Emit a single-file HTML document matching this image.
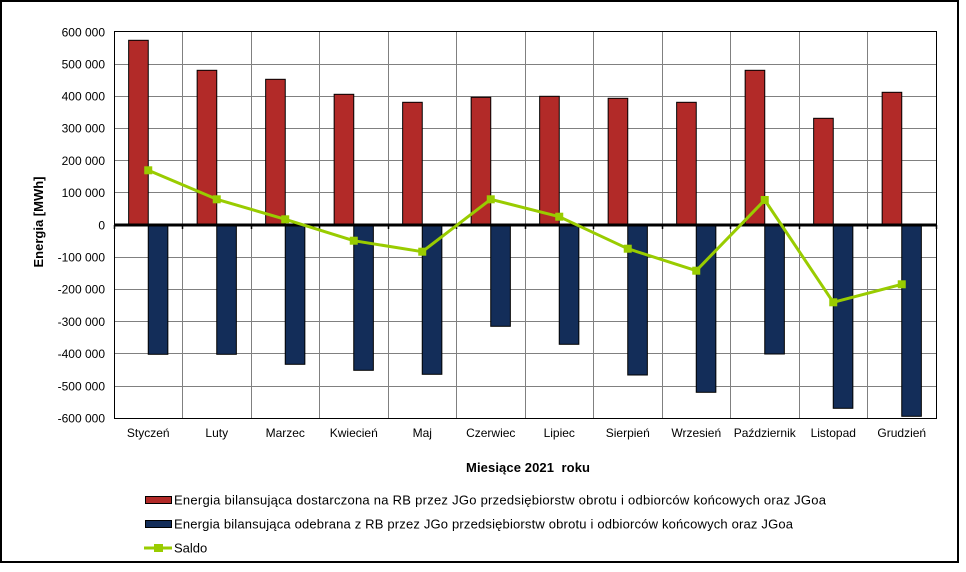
<!DOCTYPE html>
<html>
<head>
<meta charset="utf-8">
<style>
  html, body { margin: 0; padding: 0; background: #ffffff; }
  svg { display: block; }
  text { font-family: "Liberation Sans", Arial, sans-serif; fill: #000; }
</style>
</head>
<body>
<svg width="966" height="572" viewBox="0 0 966 572" xmlns="http://www.w3.org/2000/svg">
  <rect x="0" y="0" width="966" height="572" fill="#ffffff"/>
  <!-- outer frame -->
  <rect x="1" y="1" width="957" height="561" fill="none" stroke="#000" stroke-width="2"/>

  <!-- horizontal gridlines -->
  <g stroke="#808080" stroke-width="1" shape-rendering="crispEdges">
    <line x1="114" y1="64.5" x2="936" y2="64.5"/>
    <line x1="114" y1="96.5" x2="936" y2="96.5"/>
    <line x1="114" y1="128.5" x2="936" y2="128.5"/>
    <line x1="114" y1="160.5" x2="936" y2="160.5"/>
    <line x1="114" y1="192.5" x2="936" y2="192.5"/>
    <line x1="114" y1="257.5" x2="936" y2="257.5"/>
    <line x1="114" y1="289.5" x2="936" y2="289.5"/>
    <line x1="114" y1="321.5" x2="936" y2="321.5"/>
    <line x1="114" y1="353.5" x2="936" y2="353.5"/>
    <line x1="114" y1="386.5" x2="936" y2="386.5"/>
    <!-- vertical gridlines -->
    <line x1="182.5" y1="32" x2="182.5" y2="418"/>
    <line x1="251.5" y1="32" x2="251.5" y2="418"/>
    <line x1="319.5" y1="32" x2="319.5" y2="418"/>
    <line x1="388.5" y1="32" x2="388.5" y2="418"/>
    <line x1="456.5" y1="32" x2="456.5" y2="418"/>
    <line x1="525.5" y1="32" x2="525.5" y2="418"/>
    <line x1="593.5" y1="32" x2="593.5" y2="418"/>
    <line x1="662.5" y1="32" x2="662.5" y2="418"/>
    <line x1="730.5" y1="32" x2="730.5" y2="418"/>
    <line x1="799.5" y1="32" x2="799.5" y2="418"/>
    <line x1="867.5" y1="32" x2="867.5" y2="418"/>
  </g>

  <!-- plot border -->
  <rect x="114.5" y="31.5" width="822" height="387" fill="none" stroke="#000" stroke-width="1" shape-rendering="crispEdges"/>

  <!-- red bars -->
  <g fill="#B22A28" stroke="#000" stroke-width="1">
    <rect x="128.65" y="40.3" width="19.6" height="184.7"/>
    <rect x="197.15" y="70.3" width="19.6" height="154.7"/>
    <rect x="265.65" y="79.3" width="19.6" height="145.7"/>
    <rect x="334.15" y="94.3" width="19.6" height="130.7"/>
    <rect x="402.65" y="102.3" width="19.6" height="122.7"/>
    <rect x="471.15" y="97.3" width="19.6" height="127.7"/>
    <rect x="539.65" y="96.3" width="19.6" height="128.7"/>
    <rect x="608.15" y="98.3" width="19.6" height="126.7"/>
    <rect x="676.65" y="102.3" width="19.6" height="122.7"/>
    <rect x="745.15" y="70.3" width="19.6" height="154.7"/>
    <rect x="813.65" y="118.3" width="19.6" height="106.7"/>
    <rect x="882.15" y="92.3" width="19.6" height="132.7"/>
  </g>

  <!-- blue bars -->
  <g fill="#132D59" stroke="#000" stroke-width="1">
    <rect x="148.25" y="225" width="19.6" height="129.3"/>
    <rect x="216.75" y="225" width="19.6" height="129.3"/>
    <rect x="285.25" y="225" width="19.6" height="139.3"/>
    <rect x="353.75" y="225" width="19.6" height="145.3"/>
    <rect x="422.25" y="225" width="19.6" height="149.3"/>
    <rect x="490.75" y="225" width="19.6" height="101.3"/>
    <rect x="559.25" y="225" width="19.6" height="119.3"/>
    <rect x="627.75" y="225" width="19.6" height="150"/>
    <rect x="696.25" y="225" width="19.6" height="167.3"/>
    <rect x="764.75" y="225" width="19.6" height="129"/>
    <rect x="833.25" y="225" width="19.6" height="183.3"/>
    <rect x="901.75" y="225" width="19.6" height="191.3"/>
  </g>

  <!-- zero axis -->
  <line x1="114" y1="225" x2="937" y2="225" stroke="#000" stroke-width="3"/>
  <g stroke="#000" stroke-width="1.5">
    <line x1="114.5" y1="225" x2="114.5" y2="229"/>
    <line x1="182.5" y1="225" x2="182.5" y2="229"/>
    <line x1="251.5" y1="225" x2="251.5" y2="229"/>
    <line x1="319.5" y1="225" x2="319.5" y2="229"/>
    <line x1="388.5" y1="225" x2="388.5" y2="229"/>
    <line x1="456.5" y1="225" x2="456.5" y2="229"/>
    <line x1="525.5" y1="225" x2="525.5" y2="229"/>
    <line x1="593.5" y1="225" x2="593.5" y2="229"/>
    <line x1="662.5" y1="225" x2="662.5" y2="229"/>
    <line x1="730.5" y1="225" x2="730.5" y2="229"/>
    <line x1="799.5" y1="225" x2="799.5" y2="229"/>
    <line x1="867.5" y1="225" x2="867.5" y2="229"/>
    <line x1="936.5" y1="225" x2="936.5" y2="229"/>
  </g>

  <!-- Saldo line -->
  <polyline fill="none" stroke="#99CC00" stroke-width="3" stroke-linejoin="round"
    points="148.25,170.3 216.75,199.3 285.25,219.3 353.75,240.7 422.25,251.7 490.75,199.3 559.25,216.7 627.75,248.7 696.25,270.7 764.75,200 833.25,302.3 901.75,284.3"/>
  <g fill="#99CC00">
    <rect x="144.25" y="166.3" width="8" height="8"/>
    <rect x="212.75" y="195.3" width="8" height="8"/>
    <rect x="281.25" y="215.3" width="8" height="8"/>
    <rect x="349.75" y="236.7" width="8" height="8"/>
    <rect x="418.25" y="247.7" width="8" height="8"/>
    <rect x="486.75" y="195.3" width="8" height="8"/>
    <rect x="555.25" y="212.7" width="8" height="8"/>
    <rect x="623.75" y="244.7" width="8" height="8"/>
    <rect x="692.25" y="266.7" width="8" height="8"/>
    <rect x="760.75" y="196" width="8" height="8"/>
    <rect x="829.25" y="298.3" width="8" height="8"/>
    <rect x="897.75" y="280.3" width="8" height="8"/>
  </g>

  <!-- y tick labels -->
  <g font-size="12" text-anchor="end">
    <text x="105" y="36.5">600 000</text>
    <text x="105" y="68.5">500 000</text>
    <text x="105" y="100.5">400 000</text>
    <text x="105" y="132.5">300 000</text>
    <text x="105" y="165">200 000</text>
    <text x="105" y="197">100 000</text>
    <text x="105" y="229.5">0</text>
    <text x="105" y="261.5">-100 000</text>
    <text x="105" y="293.5">-200 000</text>
    <text x="105" y="326">-300 000</text>
    <text x="105" y="358">-400 000</text>
    <text x="105" y="390.5">-500 000</text>
    <text x="105" y="422.5">-600 000</text>
  </g>

  <!-- x category labels -->
  <g font-size="12" text-anchor="middle">
    <text x="148.25" y="437">Styczeń</text>
    <text x="216.75" y="437">Luty</text>
    <text x="285.25" y="437">Marzec</text>
    <text x="353.75" y="437">Kwiecień</text>
    <text x="422.25" y="437">Maj</text>
    <text x="490.75" y="437">Czerwiec</text>
    <text x="559.25" y="437">Lipiec</text>
    <text x="627.75" y="437">Sierpień</text>
    <text x="696.25" y="437">Wrzesień</text>
    <text x="764.75" y="437">Październik</text>
    <text x="833.25" y="437">Listopad</text>
    <text x="901.75" y="437">Grudzień</text>
  </g>

  <!-- axis titles -->
  <text x="528" y="472" font-size="13" font-weight="bold" text-anchor="middle" textLength="124" lengthAdjust="spacing" xml:space="preserve">Miesiące 2021  roku</text>
  <text transform="translate(43,222) rotate(-90)" font-size="13" font-weight="bold" text-anchor="middle">Energia [MWh]</text>

  <!-- legend -->
  <rect x="145.5" y="496.5" width="26" height="7" fill="#B22A28" stroke="#000" stroke-width="1"/>
  <text x="174" y="504.5" font-size="13" textLength="652" lengthAdjust="spacing">Energia bilansująca dostarczona na RB przez JGo przedsiębiorstw obrotu i odbiorców końcowych oraz JGoa</text>
  <rect x="145.5" y="520.5" width="26" height="7" fill="#132D59" stroke="#000" stroke-width="1"/>
  <text x="174" y="528.5" font-size="13" textLength="619" lengthAdjust="spacing">Energia bilansująca odebrana z RB przez JGo przedsiębiorstw obrotu i odbiorców końcowych oraz JGoa</text>
  <line x1="144" y1="548" x2="172" y2="548" stroke="#99CC00" stroke-width="3"/>
  <rect x="154" y="544" width="9" height="8" fill="#99CC00"/>
  <text x="174" y="552.5" font-size="13">Saldo</text>
</svg>
</body>
</html>
